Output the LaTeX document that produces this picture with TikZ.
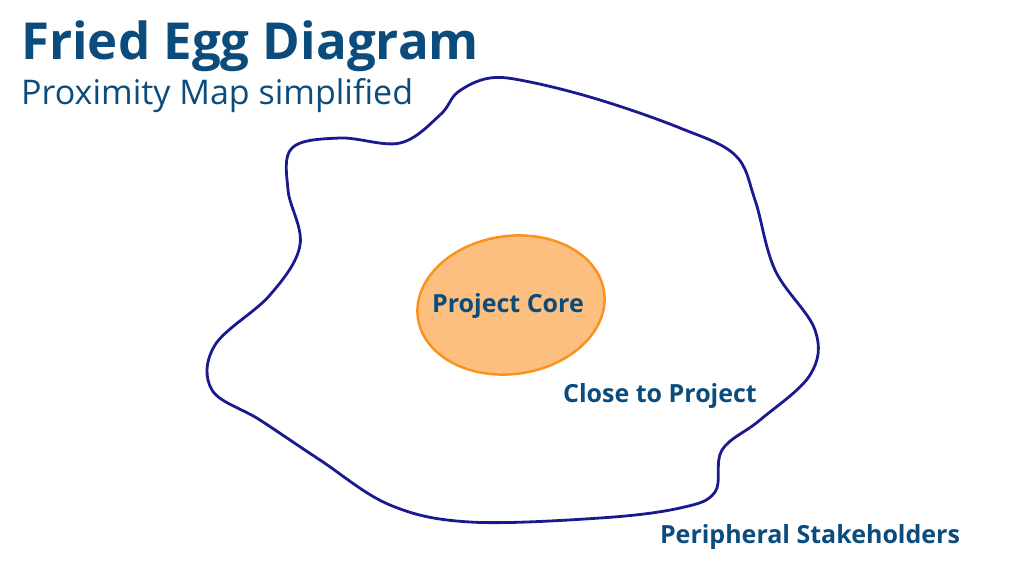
\documentclass[tikz,border=0pt]{standalone}
\usepackage{fontspec}
\setmainfont{Open Sans}
\usetikzlibrary{shapes.geometric}
\definecolor{tx}{HTML}{0B4C7C}
\definecolor{eg}{HTML}{1A1A8E}
\definecolor{yf}{HTML}{FDBF80}
\definecolor{yd}{HTML}{F7931E}
\begin{document}
\begin{tikzpicture}[x=1pt,y=-1pt,lbl/.style={text=tx,font=\bfseries\fontsize{25}{30}\selectfont}]
\useasboundingbox (0,0) rectangle (1024,576);
\node[anchor=west,text=tx,font=\bfseries\fontsize{51}{56}\selectfont,inner sep=0pt] (t) at (21,46) {Fried Egg Diagram};
\node[anchor=west,text=tx,font=\fontsize{34}{38}\selectfont,inner sep=0pt] (s) at (21,96) {Proximity Map simplified};
\draw[eg,line width=2.8pt] plot[smooth cycle,tension=0.6] coordinates {
(458,92) (490,78) (530,82) (600,100) (680,128) (735,155) (755,200) (775,270) (815,330) (810,375) (760,420) (722,450) (715,492) (680,508) (600,518) (470,522) (390,505) (320,460) (260,420) (212,390) (215,345) (270,295) (300,245) (288,190) (292,148) (340,138) (400,143) (440,115)};
\node[draw=yd,fill=yf,line width=2.5pt,ellipse,minimum width=188pt,minimum height=138pt,rotate=8] (core) at (511,305) {};
\node[lbl] (cl) at (508,306) {Project Core};
\node[lbl] (cp) at (660,396) {Close to Project};
\node[lbl] (ps) at (810,537) {Peripheral Stakeholders};
\end{tikzpicture}
\end{document}
